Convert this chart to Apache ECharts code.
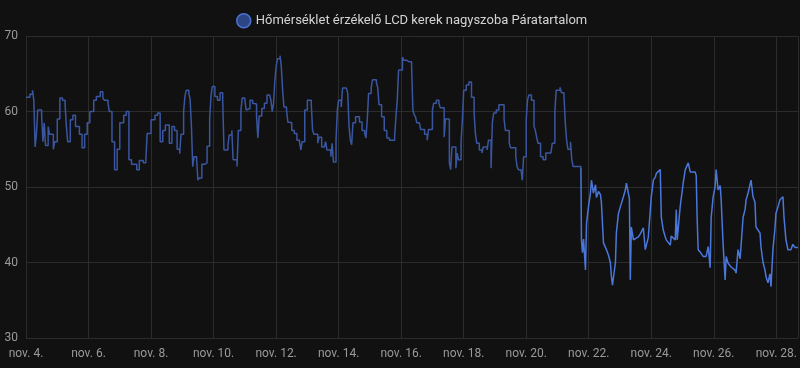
<!DOCTYPE html>
<html>
<head>
<meta charset="utf-8">
<script src="https://cdn.jsdelivr.net/npm/echarts@6/dist/echarts.min.js"></script>
<style>
html,body{margin:0;padding:0;background:#111111;}
#c{width:800px;height:368px;}
</style>
</head>
<body>
<div id="c"></div>
<script>
const seriesName = 'Hőmérséklet érzékelő LCD kerek nagyszoba Páratartalom';
const startDate = [2024, 10, 4];
const axisMaxHours = 592.6;
const yTicks = [30, 40, 50, 60, 70];

// long-term statistics part (hours since nov. 4. 00:00)
const statsHours = [0,3,5,6,7,8,9,12,13,14,15,17,18,21,22,24,26,28,30,31,32,34,36,38,41,43,45,47,49,52,54,57,59,60,63,64,66,68,70,72,75,77,79,81,85,87,90,92,93,96,99,101,103,105,107,110,112,114,116,118,119,121,122,123,125,126,127,128,129,131,132,133,135,137,139,141,142,143,145,147,149,151,152,155,156,158,159,162,163,165,166,168,169,170,172,174,175,177,178,179,181,183,185,187,188,189,190,191,192,193,195,196,197,198,200,201,202,204,206,208,210,211,212,214,216,219,220,221,224,225,227,229,230,231,234,235,236,238,239,240,242,243,246,247,248,249,250,251,253,256,258,260,261,262,263,265,266,269,270,271,273,275,277,279,281,283,284,285,286,289,290,292,294,296,297,298,299,300,302,303,304,306,308,309,312,313,315,317,318,319,321,322,323,325,326,327,328,330,331,332,334,335,336,338,340,341,342,344,345,346,348,350,351,354,355,356,357,358,359,361,363,365,367,368,371,372,374,376,377,378,380,381,382,384,385,386,387,388,390,391,392,393,395,397,399,403,404,405,406,407,410,411,413,414,415,416,418,419,420,424,426];
const statsValues = [61.9,62.3,62.8,61.5,55.3,57,60.2,59.5,56,58.5,55.5,58,57,55,56,59,61.8,61.5,61,58,56,58.9,59.5,58,57,55.2,57,58.5,60,61.5,62,62.6,61.8,61.5,61,60,56,52.3,55,58.5,59.5,60,53.6,53,52.3,53.5,53.2,53.5,57.1,58.9,59.5,59.8,56,57.5,58.2,55.8,58,57.5,55,54.4,57,60,62,62.8,62.4,61.6,58,52.7,54,53.6,50.9,51.2,53,53.2,55.4,59,62,63.3,62,61.5,62.5,61.5,54.9,55.5,56.9,57.5,53.6,52.7,57.5,60.2,61.8,61.5,60.2,60.4,61.5,61.1,61,59.3,56.5,59.4,60.4,61.1,62.2,62,61.5,60,61,64,65.9,67,67.4,65.9,62.8,60.6,60.2,58.6,58.5,57.5,57.1,56.2,55.9,54.9,56,60.2,61.5,61,57.5,57,55.8,56.6,55.3,55.3,56,54.9,54,55.8,53.3,56.2,60.2,61.5,60.6,63.1,63.1,62.4,58,56.2,55.6,58.5,59.3,58.6,57.5,57.1,56.5,59,62.4,63.2,64.2,63.8,63.2,60.9,59.3,57.5,56.5,56.2,56.2,56.8,59.3,61.5,65.5,67.2,66.8,66.6,66.6,66.1,60.2,59.6,59.3,58.5,58.5,57.6,57.6,57,56.2,57.6,60.2,61.1,61.5,61.1,60.5,60.5,56.6,59,59,53.2,52.3,55.3,55.3,52.5,54.5,53.6,56,58.9,62.8,63.5,63.9,63.9,61.9,59.8,57.1,55.8,54.9,54.5,55.3,54.9,56.2,56.2,52.5,58.5,59.8,60.2,60.9,60.9,59,57.5,55.8,55.2,55.2,54,52.7,52.3,52.3,50.9,54,58.9,61.5,62.2,62.2,61.5,58,57.5,56.6,55.8,54,53.6,54.5,54.5,55.8,55.8,60,62.8,63.2,62.5,62,58.5,56.2,55,56,53.6,52.7,52.7,52.5];

// recent raw history part
const rawHours = [426,426.4,427.2,428.0,429.5,430.3,431.8,433.3,434.1,435.6,437.2,437.9,439.5,441.0,441.7,443.3,444.8,445.6,447.1,448.6,449.4,450.2,452.5,453.2,454.8,456.3,458.6,460.1,460.9,462.4,463.2,463.9,464.7,466.3,470.1,471.6,472.4,473.9,475.4,477.7,479.3,480.0,481.6,483.1,483.9,486.9,487.7,489.2,490.7,491.5,494.6,495.3,498.4,499.2,499.9,502.2,504.5,506.1,508.4,509.9,513.7,514.5,515.2,516.0,517.5,519.8,522.1,523.7,525.2,526.0,527.5,529.0,529.8,531.3,532.9,533.6,535.1,536.7,537.5,539.0,541.3,542.8,544.3,545.1,546.6,548.2,548.9,550.5,552.0,552.8,554.3,555.8,556.6,558.1,559.6,560.4,563.5,564.2,565.8,567.3,568.1,569.6,571.1,571.9,573.4,575.0,575.7,577.3,578.8,581.1,581.9,582.6,583.4,584.9,587.2,588.7,590.3,592.6];
const rawValues = [52.5,43,41.3,43.1,39,45.2,47.4,49.2,50.9,49.2,50.3,48.6,49.4,49,48,42.6,42,41.7,41,40,38.2,37,40,43.9,46.5,47.4,48.7,49.6,50.5,50.6,48.5,37.7,44.7,43,43.4,43.8,43.8,44.6,41.7,43.3,47,48.7,50.9,51.3,51.8,52.3,46,44.3,43.4,43,42.3,43.5,43,47,43,47.4,50.5,52.3,53.2,52,52,51.5,46,41.7,41.4,40.8,40.8,42.1,39.3,46,48.7,50,52.3,49.6,50.2,48.5,42.6,37.7,40.8,39.9,39.4,39.2,39,38.6,41.7,40.5,40.5,46,47,48.3,49.2,49.2,50.9,48.7,48,44.7,43.9,42.1,40,39,38.1,37.3,38.5,36.8,41.7,44.6,46.5,47.4,48.3,48.7,46,44.6,43,41.7,41.7,42.4,42,42];

const t0 = new Date(startDate[0], startDate[1], startDate[2]).getTime();
const H = 3600000;
const toPairs = (hs, vs) => hs.map((h, i) => [t0 + h * H, vs[i]]);

const chart = echarts.init(document.getElementById('c'), null, {renderer: 'canvas'});
chart.setOption({
  backgroundColor: '#111111',
  animation: false,
  textStyle: {fontFamily: 'Roboto'},
  legend: {
    data: [seriesName],
    top: 8,
    left: 231,
    icon: 'circle',
    itemWidth: 14,
    itemHeight: 14,
    itemGap: 8,
    textStyle: {color: '#d4d4d4', fontSize: 13, fontFamily: 'Roboto'},
    itemStyle: {color: 'rgba(66,105,208,0.6)', borderColor: '#4a72d0', borderWidth: 1.5}
  },
  grid: {left: 26, right: 0, top: 36, bottom: 30, containLabel: false},
  xAxis: {
    type: 'value',
    min: t0,
    max: t0 + axisMaxHours * H,
    interval: 2 * 24 * H,
    axisLine: {show: false},
    axisTick: {show: false},
    splitLine: {show: true, lineStyle: {color: '#2c2c2c', width: 1}},
    axisLabel: {
      color: '#9a9a9a', fontSize: 12, margin: 10, hideOverlap: false,
      showMaxLabel: false,
      formatter: v => 'nov. ' + new Date(v).getDate() + '.'
    }
  },
  yAxis: {
    type: 'value',
    min: yTicks[0],
    max: yTicks[yTicks.length - 1],
    interval: 10,
    axisLine: {show: false},
    axisTick: {show: false},
    splitLine: {show: true, lineStyle: {color: '#2c2c2c', width: 1}},
    axisLabel: {color: '#9a9a9a', fontSize: 12, margin: 8}
  },
  series: [
    {
      name: seriesName, type: 'line', step: 'end', showSymbol: false, symbol: 'none',
      data: toPairs(statsHours, statsValues),
      lineStyle: {color: '#3a56a0', width: 1.5},
      itemStyle: {color: '#3a56a0'}
    },
    {
      name: seriesName, type: 'line', showSymbol: false, symbol: 'none',
      data: toPairs(rawHours, rawValues),
      lineStyle: {color: '#4b77db', width: 1.5},
      itemStyle: {color: '#4b77db'}
    }
  ]
});
</script>
</body>
</html>
